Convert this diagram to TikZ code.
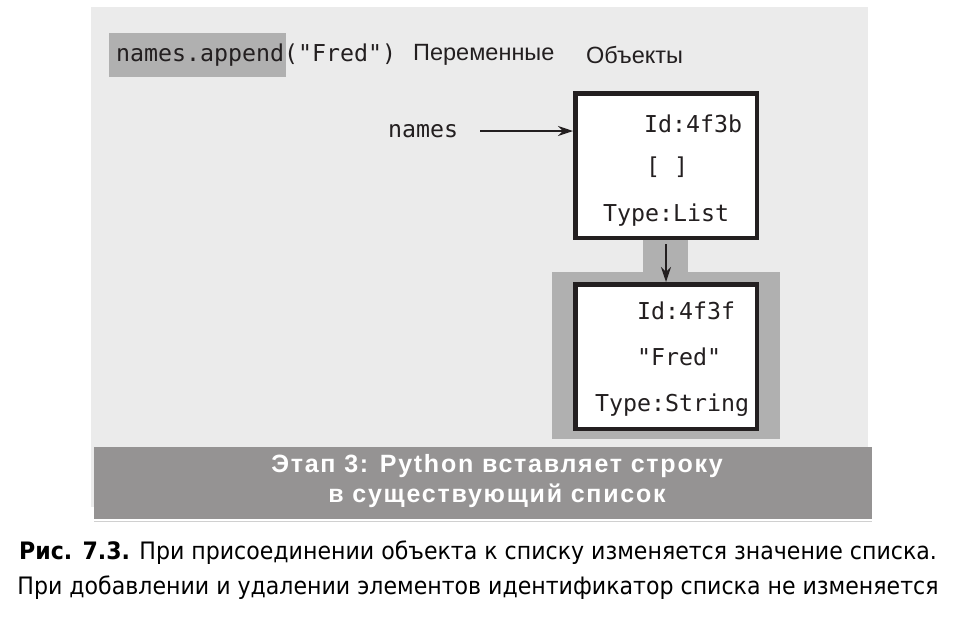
\documentclass[tikz,border=0pt]{standalone}
\usepackage{fontspec}
\setmainfont{DejaVu Sans}
\newfontfamily\capfont{DejaVu Sans}[FakeStretch=0.92]
\newfontfamily\banfont{Liberation Sans}[LetterSpace=7]
\newfontfamily\hdrfont{Liberation Sans}
\newfontfamily\codefont{DejaVu Sans Mono}
\usetikzlibrary{arrows.meta}
\definecolor{panel}{HTML}{EBEBEB}
\definecolor{banner}{HTML}{959393}
\definecolor{hilite}{HTML}{B0B0B0}
\definecolor{ink}{HTML}{231F20}
\tikzset{
  code/.style={font=\codefont\fontsize{23.25}{27}\selectfont, text=ink, inner sep=0pt, anchor=west},
  hdr/.style={font=\hdrfont\fontsize{23.5}{27}\selectfont, text=ink, inner sep=0pt, anchor=west},
  objbox/.style={draw=ink, line width=4.5pt, fill=white, minimum width=181.5pt, minimum height=144.5pt, inner sep=0pt},
  arr/.style={draw=ink, line width=2pt, -{Stealth[length=15pt,width=10pt]}},
}
\begin{document}
\begin{tikzpicture}[x=1pt,y=-1pt]
\useasboundingbox (0,0) rectangle (953,622);
\fill[white] (0,0) rectangle (953,622);
% panel
\fill[panel] (91,7) rectangle (868,507);
% banner
\fill[banner] (94,447) rectangle (872,519);
\draw[hilite!60, line width=1pt] (94,521.5) -- (872,521.5);
% highlight
\fill[hilite] (109,33) rectangle (286,77);
\node[code] (codeline) at (116,55) {names.append("Fred")};
\node[hdr] (vars) at (413,55) {Переменные};
\node[hdr] (objs) at (586,55) {Объекты};
% grey grouping
\fill[hilite] (643,238) rectangle (688,273);
\fill[hilite] (552,272) rectangle (780,439);
% boxes
\node[objbox] (box1) at (666,165.5) {};
\node[objbox] (box2) at (666,356.5) {};
\node[code] (id1) at (644,124) {Id:4f3b};
\node[code] (val1) at (646,167) {[ ]};
\node[code] (type1) at (603,215) {Type:List};
\node[code] (id2) at (637,311) {Id:4f3f};
\node[code] (val2) at (637,357) {"Fred"};
\node[code] (type2) at (595,405) {Type:String};
% variable
\node[code] (var) at (388,131) {names};
\draw[arr, shorten <=22pt] (var.east) -- (var.east -| box1.west);
\draw[arr, shorten <=4pt] (box1.south) -- (box2.north);
% banner text
\node[font=\banfont\bfseries\fontsize{25}{29.5}\selectfont, text=white, align=center, inner sep=0pt] (title) at (497,481) {Этап 3: Python вставляет строку\\в существующий список};
% caption
\node[font=\capfont\fontsize{24}{35}\selectfont, text=black, align=center, inner sep=0pt] (caption) at (478,570) {{\bfseries Рис. 7.3.} При присоединении объекта к списку изменяется значение списка.\\При добавлении и удалении элементов идентификатор списка не изменяется};
\end{tikzpicture}
\end{document}
